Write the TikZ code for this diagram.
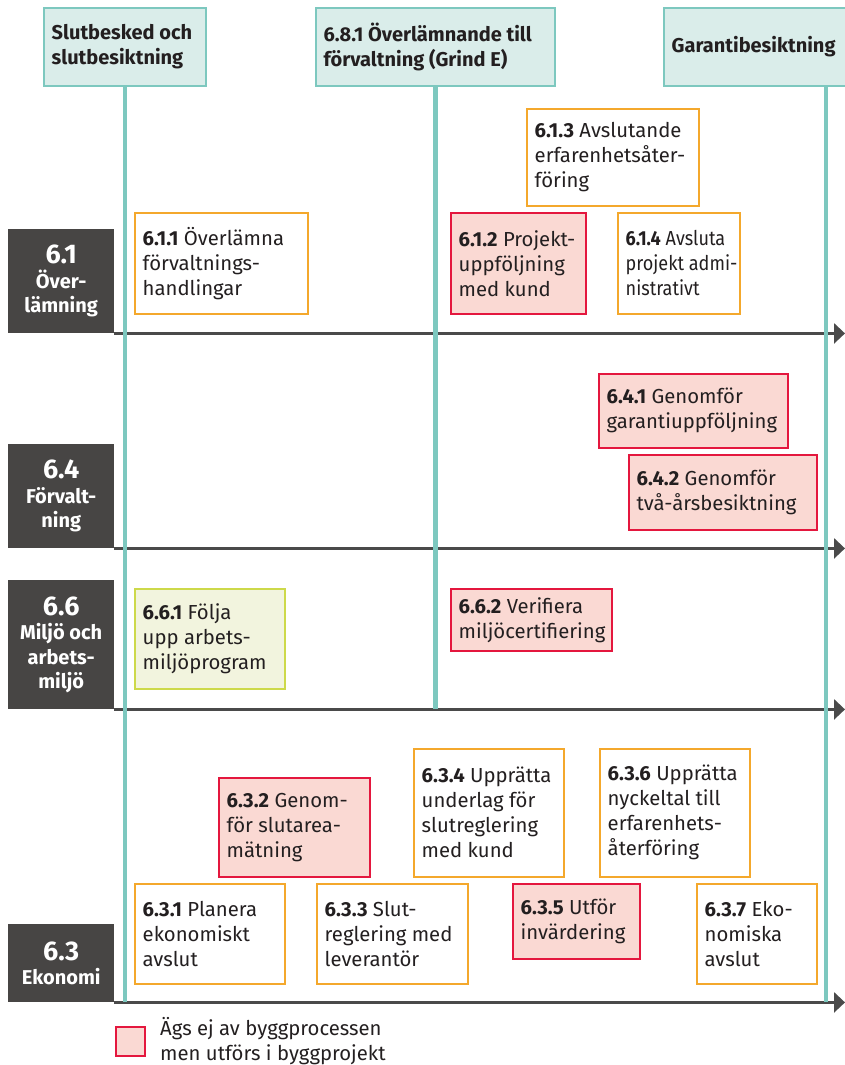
\documentclass[tikz,border=0pt]{standalone}
\usepackage{fontspec}
\setmainfont{Fira Sans}
\newfontfamily\narrowf[FakeStretch=0.89]{Fira Sans}
\usetikzlibrary{arrows.meta}
\definecolor{tealL}{HTML}{7DC8BF}
\definecolor{tealF}{HTML}{DAEDEA}
\definecolor{orB}{HTML}{F4A82C}
\definecolor{rdB}{HTML}{E4173E}
\definecolor{pkF}{HTML}{FAD9D3}
\definecolor{olB}{HTML}{CDD94A}
\definecolor{olF}{HTML}{F2F4DE}
\definecolor{dkF}{HTML}{474544}
\definecolor{dkL}{HTML}{4A4A4A}
\definecolor{txt}{HTML}{231F20}
\tikzset{
 rbase/.style={anchor=north west, inner sep=0pt, line width=1.6pt},
 task/.style={rbase, draw=orB, fill=white},
 own/.style={rbase, draw=rdB, fill=pkF},
 env/.style={rbase, draw=olB, fill=olF},
 head/.style={rbase, draw=tealL, fill=tealF, line width=2pt},
 tx/.style={anchor=west, align=left, inner sep=0pt, text=txt, font=\fontsize{20.3}{25}\selectfont},
 txs/.style={tx, font=\narrowf\fontsize{20.3}{25}\selectfont},
 hx/.style={anchor=west, align=left, inner sep=0pt, text=txt, font=\fontsize{20}{25}\selectfont\bfseries},
 lab/.style={fill=dkF, text=white, anchor=north west, align=center, inner sep=0pt, font=\fontsize{20}{24.5}\selectfont\bfseries},
 vline/.style={draw=tealL, line width=4.5pt},
 tline/.style={draw=dkL, line width=3pt, -{Triangle[length=11pt,width=20pt]}},
}
\newcommand\tbox[8]{%
 \pgfmathsetlengthmacro\tbw{#6pt-#4pt}%
 \pgfmathsetlengthmacro\tbh{#7pt-#5pt}%
 \node[#1, minimum width=\tbw, minimum height=\tbh] (#3) at (#4,#5) {};
 \node[#2] (#3t) at ([xshift=8.5pt]#3.west) {#8};
}
\newcommand\bignum[1]{{\fontsize{27}{28}\selectfont #1}}
\begin{document}
\begin{tikzpicture}[x=1pt,y=-1pt]
\useasboundingbox (0,0) rectangle (845,1065);
\coordinate (R) at (845,0);

% headers
\tbox{head}{hx}{h1}{43}{7}{205}{85}{Slutbesked och\\slutbesiktning}
\tbox{head}{hx}{h2}{315}{7}{554}{85}{6.8.1 Överlämnande till\\förvaltning (Grind E)}
\tbox{head}{hx}{h3}{663}{7}{987}{85}{Garantibesiktning}

% lane labels
\node[lab, minimum width=106pt, minimum height=104pt] (l61) at (8,229) {\bignum{6.1}\\Över-\\lämning};
\node[lab, minimum width=106pt, minimum height=104pt] (l64) at (8,444) {\bignum{6.4}\\Förvalt-\\ning};
\node[lab, minimum width=106pt, minimum height=129pt] (l66) at (8,580) {\bignum{6.6}\\Miljö och\\arbets-\\miljö};
\node[lab, minimum width=106pt, minimum height=78pt] (l63) at (8,924) {\bignum{6.3}\\Ekonomi};

% time lines
\draw[tline] (l61.south east) -- (l61.south east -| R);
\draw[tline] (l64.south east) -- (l64.south east -| R);
\draw[tline] (l66.south east) -- (l66.south east -| R);
\draw[tline] (l63.south east) -- (l63.south east -| R);

% vertical milestone lines
\draw[vline] (h1.south) -- (h1.south |- l63.south);
\draw[vline] (h2.south) -- (h2.south |- l66.south);
\draw[vline] (h3.south) -- (h3.south |- l63.south);

% 6.1
\tbox{task}{tx}{t613}{526}{108}{698}{205}{\textbf{6.1.3} Avslutande\\erfarenhetsåter-\\föring}
\tbox{task}{tx}{t611}{134}{212}{307}{313}{\textbf{6.1.1} Överlämna\\förvaltnings-\\handlingar}
\tbox{own}{tx}{t612}{450}{212}{585}{313}{\textbf{6.1.2} Projekt-\\uppföljning\\med kund}
\tbox{task}{txs}{t614}{617}{212}{739}{313}{\textbf{6.1.4} Avsluta\\projekt admi-\\nistrativt}
% 6.4
\tbox{own}{tx}{t641}{598}{373}{787}{447}{\textbf{6.4.1} Genomför\\garantiuppföljning}
\tbox{own}{tx}{t642}{628}{454}{816}{529}{\textbf{6.4.2} Genomför\\två-årsbesiktning}
% 6.6
\tbox{env}{tx}{t661}{134}{588}{284}{688}{\textbf{6.6.1} Följa\\upp arbets-\\miljöprogram}
\tbox{own}{tx}{t662}{450}{588}{611}{650}{\textbf{6.6.2} Verifiera\\miljöcertifiering}
% 6.3
\tbox{own}{tx}{t632}{218}{777}{369}{876}{\textbf{6.3.2} Genom-\\för slutarea-\\mätning}
\tbox{task}{tx}{t634}{413}{748}{563}{876}{\textbf{6.3.4} Upprätta\\underlag för\\slutreglering\\med kund}
\tbox{task}{tx}{t636}{599}{748}{749}{876}{\textbf{6.3.6} Upprätta\\nyckeltal till\\erfarenhets-\\återföring}
\tbox{task}{tx}{t631}{134}{883}{284}{983}{\textbf{6.3.1} Planera\\ekonomiskt\\avslut}
\tbox{task}{tx}{t633}{316}{883}{467}{983}{\textbf{6.3.3} Slut-\\reglering med\\leverantör}
\tbox{own}{tx}{t635}{512}{883}{639}{958}{\textbf{6.3.5} Utför\\invärdering}
\tbox{task}{tx}{t637}{696}{883}{816}{983}{\textbf{6.3.7} Eko-\\nomiska\\avslut}

% legend
\node[own, minimum width=29pt, minimum height=29pt] (leg) at (115,1026) {};
\node[tx] (legt) at (160,1041) {Ägs ej av byggprocessen\\men utförs i byggprojekt};
\end{tikzpicture}
\end{document}
